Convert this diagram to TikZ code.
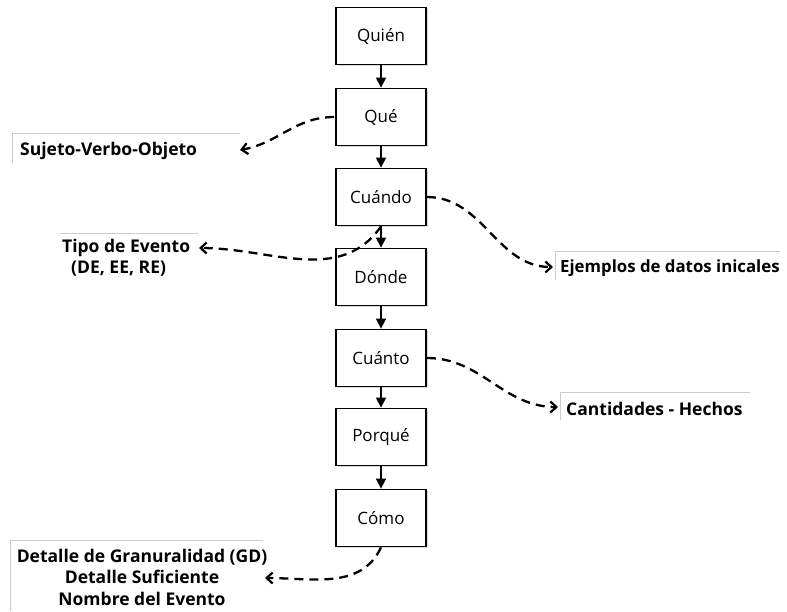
\documentclass[tikz,border=0pt]{standalone}
\usepackage{fontspec}
\setmainfont{Open Sans}
\usetikzlibrary{arrows.meta,shadows}
\begin{document}
\begin{tikzpicture}[x=1pt,y=-1pt,
  stepbox/.style={draw=black, line width=1.8pt, fill=white, minimum width=90pt, minimum height=57pt,
     font=\fontsize{17}{20}\selectfont, drop shadow={opacity=0.3, shadow xshift=1.8pt, shadow yshift=-1.8pt}},
  flow/.style={line width=1.6pt, -{Triangle[length=10pt,width=10pt]}},
  link/.style={line width=2.3pt, dash pattern=on 9pt off 6pt, -{Straight Barb[length=6pt,width=11pt,line width=2.2pt]}},
  lab/.style={font=\bfseries\fontsize{17.5}{21.5}\selectfont, inner sep=0pt},
  frame/.style={draw=gray!40, line width=0.9pt}]
\useasboundingbox (0,0) rectangle (787,611);
% boxes
\node[stepbox] (quien) at (381,36) {Quién};
\node[stepbox] (que) at (381,117) {Qué};
\node[stepbox] (cuando) at (381,197) {Cuándo};
\node[stepbox] (donde) at (381,277) {Dónde};
\node[stepbox] (cuanto) at (381,358) {Cuánto};
\node[stepbox] (porque) at (381,437) {Porqué};
\node[stepbox] (como) at (381,518) {Cómo};
\draw[flow] (quien) -- (que);
\draw[flow] (que) -- (cuando);
\draw[flow] (cuando) -- (donde);
\draw[flow] (donde) -- (cuanto);
\draw[flow] (cuanto) -- (porque);
\draw[flow] (porque) -- (como);
% label frames
\draw[frame] (12,163) -- (12,133) -- (240,133);
\draw[frame] (60,233) -- (198,233);
\draw[frame] (555,280) -- (555,251) -- (780,251);
\draw[frame] (560,420) -- (560,392) -- (750,392);
\draw[frame] (10,611) -- (10,540) -- (263,540);
% labels
\node[lab, anchor=west] (suj) at (20,151) {Sujeto-Verbo-Objeto};
\node[lab, anchor=north west, align=left] (tipo) at (62,239) {Tipo de Evento\\[-1pt]\hspace*{9pt}(DE, EE, RE)};
\node[lab, anchor=west, font=\bfseries\fontsize{16.8}{20}\selectfont] (ejem) at (560,268) {Ejemplos de datos inicales};
\node[lab, anchor=west] (cant) at (566,409) {Cantidades - Hechos};
\node[lab, anchor=center, align=center] (det) at (142,577) {Detalle de Granuralidad (GD)\\Detalle Suficiente\\Nombre del Evento};
% arrow tips
\coordinate (tsuj) at (240,150);
\coordinate (ttipo) at (199,248);
\coordinate (tejem) at (553,267);
\coordinate (tcant) at (558,407);
\coordinate (tdet) at (265,578);
\draw[link] (que.west) ++(-1,0) to[out=180,in=10] (tsuj);
\draw[link] (cuando.south) to[out=-125,in=0] (ttipo);
\draw[link] (cuando.east) to[out=0,in=180] (tejem);
\draw[link] (cuanto.east) to[out=0,in=180] (tcant);
\draw[link] (como.south) to[out=-115,in=0] (tdet);
\end{tikzpicture}
\end{document}
